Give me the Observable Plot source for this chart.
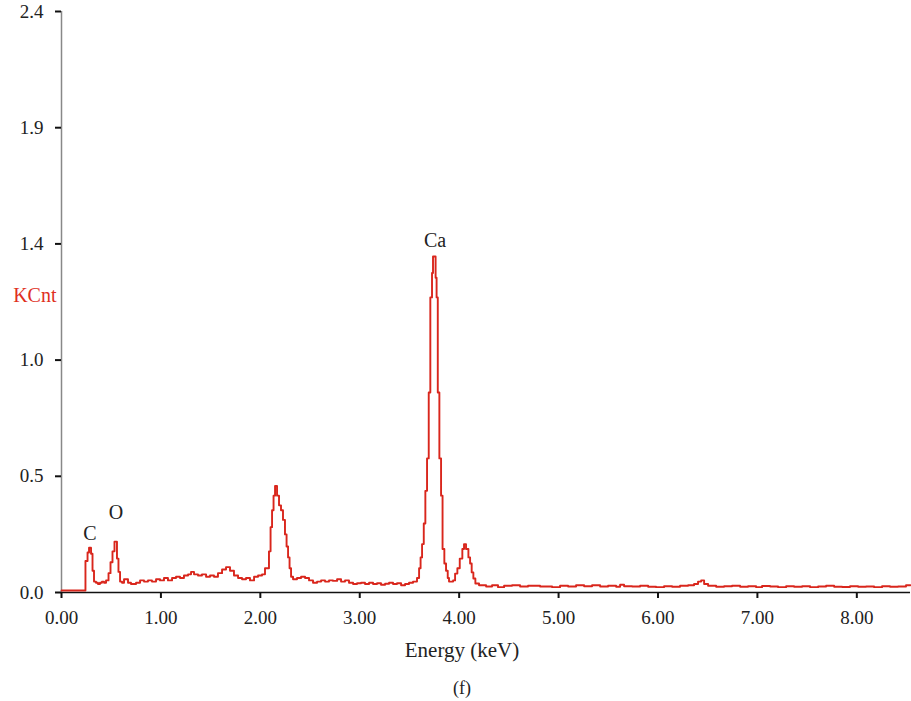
<!DOCTYPE html>
<html><head><meta charset="utf-8">
<script src="https://cdn.jsdelivr.net/npm/d3@7"></script>
<script src="https://cdn.jsdelivr.net/npm/@observablehq/plot@0.6"></script>
<style>body{margin:0;background:#fff}</style>
</head><body><div id="chart"></div>
<script>
// EDS spectrum (step histogram): channel start energy (keV) and counts (KCnt)
const energy = [0, 0.241, 0.262, 0.277, 0.297, 0.312, 0.327, 0.347, 0.367, 0.387, 0.407, 0.428, 0.448,
  0.473, 0.493, 0.513, 0.533, 0.558, 0.573, 0.589, 0.609, 0.629, 0.669, 0.699, 0.750, 0.790, 0.830, 0.870,
  0.910, 0.951, 0.991, 1.031, 1.071, 1.112, 1.152, 1.192, 1.232, 1.273, 1.303, 1.333, 1.373, 1.413, 1.454,
  1.494, 1.534, 1.574, 1.615, 1.655, 1.695, 1.735, 1.776, 1.816, 1.856, 1.896, 1.937, 1.977, 2.017, 2.047,
  2.067, 2.087, 2.103, 2.118, 2.133, 2.148, 2.168, 2.188, 2.208, 2.228, 2.248, 2.264, 2.279, 2.294, 2.309,
  2.329, 2.369, 2.410, 2.450, 2.490, 2.530, 2.571, 2.611, 2.651, 2.691, 2.731, 2.772, 2.812, 2.852, 2.892,
  2.933, 2.973, 3.013, 3.053, 3.094, 3.134, 3.174, 3.214, 3.255, 3.295, 3.335, 3.375, 3.416, 3.456, 3.496,
  3.536, 3.576, 3.597, 3.612, 3.627, 3.644, 3.660, 3.677, 3.694, 3.710, 3.727, 3.737, 3.763, 3.773, 3.785,
  3.801, 3.818, 3.833, 3.851, 3.868, 3.885, 3.898, 3.939, 3.959, 3.982, 4.006, 4.032, 4.049, 4.069, 4.093,
  4.110, 4.126, 4.143, 4.163, 4.200, 4.271, 4.331, 4.391, 4.452, 4.532, 4.613, 4.693, 4.814, 4.935, 5.015,
  5.096, 5.176, 5.257, 5.337, 5.418, 5.498, 5.579, 5.619, 5.659, 5.740, 5.820, 5.901, 5.981, 6.061, 6.142,
  6.222, 6.303, 6.363, 6.403, 6.434, 6.464, 6.504, 6.585, 6.665, 6.745, 6.826, 6.906, 6.987, 7.047, 7.128,
  7.208, 7.289, 7.369, 7.450, 7.530, 7.611, 7.691, 7.772, 7.852, 7.932, 8.013, 8.093, 8.174, 8.254, 8.334,
  8.415, 8.495, 8.540];
const counts = [0.008, 0.13, 0.165, 0.185, 0.16, 0.09, 0.045, 0.04, 0.035, 0.04, 0.045, 0.04, 0.05,
  0.08, 0.125, 0.17, 0.21, 0.14, 0.085, 0.045, 0.04, 0.055, 0.04, 0.035, 0.04, 0.05, 0.045, 0.05,
  0.045, 0.055, 0.05, 0.06, 0.05, 0.06, 0.065, 0.06, 0.07, 0.075, 0.085, 0.075, 0.07, 0.075, 0.065,
  0.07, 0.065, 0.08, 0.095, 0.105, 0.09, 0.07, 0.06, 0.055, 0.06, 0.05, 0.065, 0.07, 0.075, 0.1,
  0.1, 0.17, 0.27, 0.34, 0.40, 0.44, 0.40, 0.36, 0.34, 0.30, 0.24, 0.19, 0.145, 0.10, 0.065,
  0.055, 0.06, 0.065, 0.06, 0.05, 0.04, 0.045, 0.05, 0.045, 0.05, 0.048, 0.055, 0.045, 0.05, 0.04,
  0.035, 0.038, 0.04, 0.035, 0.04, 0.035, 0.038, 0.032, 0.036, 0.04, 0.035, 0.038, 0.03, 0.035, 0.04,
  0.045, 0.06, 0.10, 0.145, 0.20, 0.285, 0.42, 0.554, 0.826, 1.219, 1.32, 1.388, 1.30, 1.219, 0.826,
  0.554, 0.40, 0.18, 0.12, 0.09, 0.06, 0.045, 0.05, 0.078, 0.10, 0.14, 0.18, 0.20, 0.18, 0.145,
  0.12, 0.083, 0.058, 0.037, 0.03, 0.025, 0.03, 0.022, 0.028, 0.03, 0.025, 0.028, 0.025, 0.022, 0.028,
  0.025, 0.03, 0.026, 0.03, 0.025, 0.028, 0.024, 0.032, 0.026, 0.025, 0.028, 0.024, 0.022, 0.026, 0.024,
  0.028, 0.03, 0.035, 0.045, 0.05, 0.035, 0.028, 0.024, 0.026, 0.028, 0.024, 0.026, 0.022, 0.027, 0.025,
  0.022, 0.026, 0.024, 0.026, 0.022, 0.025, 0.028, 0.024, 0.023, 0.026, 0.024, 0.025, 0.022, 0.026, 0.024,
  0.025, 0.03, 0.03];

const xTicks = [0, 1, 2, 3, 4, 5, 6, 7, 8];
const yTicks = [0, 0.48, 0.96, 1.44, 1.92, 2.4];
const peakLabels = ["C", "O", "Ca"];
const peakEnergy = [0.287, 0.548, 3.757];
const peakLabelY = [0.244, 0.33, 1.455];
const yLabel = "KCnt";
const yLabelAt = 1.227;
const xLabel = "Energy (keV)";
const caption = "(f)";

const spectrum = energy.map((e, i) => ({e, c: counts[i]}));
const peaks = peakLabels.map((t, i) => ({t, e: peakEnergy[i], y: peakLabelY[i]}));

const FONT = "'Liberation Serif', 'DejaVu Serif', serif";
const chart = Plot.plot({
  width: 911, height: 701,
  marginLeft: 61, marginRight: 1, marginTop: 11, marginBottom: 109,
  x: {domain: [0, 8.54]},
  y: {domain: [0, 2.4]},
  style: {fontFamily: FONT, fontSize: "19px", color: "#222", background: "#fff"},
  marks: [
    Plot.ruleX([0], {stroke: "#888", strokeWidth: 1.5}),
    Plot.axisX({ticks: xTicks, tickFormat: d => d.toFixed(2), tickSize: 6, tickPadding: 12,
      stroke: "#111", strokeWidth: 2, label: null, fontSize: 19}),
    Plot.axisY({ticks: yTicks, tickFormat: d => d.toFixed(1), tickSize: 6, tickPadding: 12,
      stroke: "#111", strokeWidth: 2, label: null, fontSize: 19}),
    Plot.ruleY([0], {stroke: "#111", strokeWidth: 1.5}),
    Plot.line(spectrum, {x: "e", y: "c", curve: "step-after", stroke: "#d9261c", strokeWidth: 1.9}),
    Plot.text(peaks, {x: "e", y: "y", text: "t", fontSize: 20, fill: "#222", lineAnchor: "middle"}),
    Plot.text([yLabel], {y: [yLabelAt], frameAnchor: "left", dx: -5, textAnchor: "end",
      fill: "#e0301e", fontSize: 20, lineAnchor: "middle"}),
    Plot.text([xLabel], {frameAnchor: "bottom", dx: -24, dy: 58, fontSize: 21, fill: "#222", lineAnchor: "middle"}),
    Plot.text([caption], {frameAnchor: "bottom", dx: -24, dy: 96, fontSize: 18, fill: "#222", lineAnchor: "middle"})
  ]
});
document.getElementById("chart").appendChild(chart);
</script>
</body></html>
